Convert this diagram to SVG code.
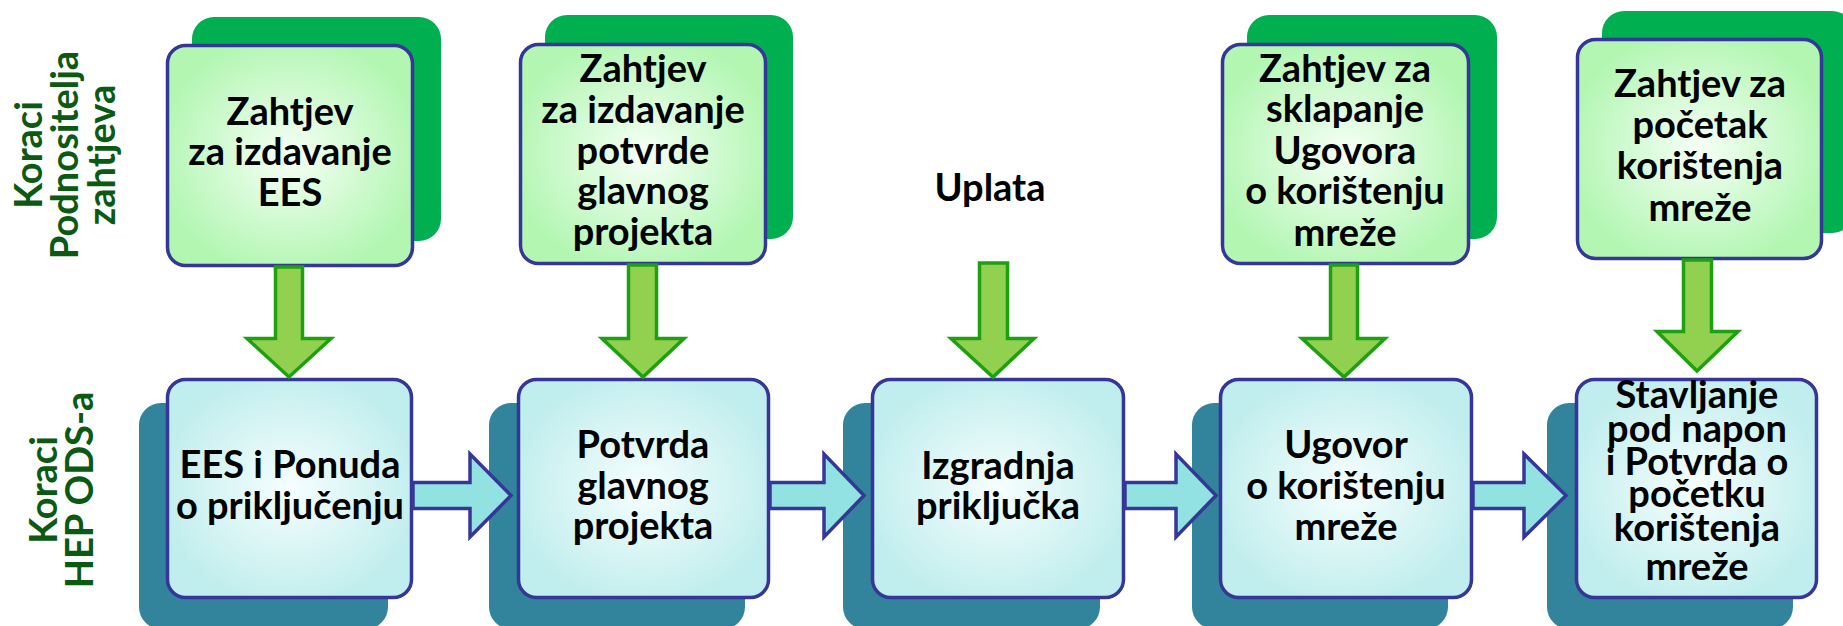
<svg xmlns="http://www.w3.org/2000/svg" width="1843" height="626" viewBox="0 0 1843 626">
<style>
  text { font-family: Lato, "Liberation Sans", sans-serif; font-weight: bold; font-size: 38px; fill: #000; text-anchor: middle; }
  .lbl { fill: #0b5a12; }
  .backG { fill: #00b050; }
  .backT { fill: #31849b; }
  .frontG { fill: url(#gTop); stroke: #363699; stroke-width: 3.5; }
  .frontT { fill: url(#gBot); stroke: #363699; stroke-width: 3.5; }
  .ga { fill: #92d050; stroke: #1fa010; stroke-width: 3.5; stroke-linejoin: miter; }
  .ba { fill: #92e2e2; stroke: #363699; stroke-width: 3.5; stroke-linejoin: miter; }
</style>
<defs>
  <radialGradient id="gTop" cx="50%" cy="50%" r="55%">
    <stop offset="0" stop-color="#f6fff6"/>
    <stop offset="1" stop-color="#b2f6b2"/>
  </radialGradient>
  <radialGradient id="gBot" cx="50%" cy="50%" r="55%">
    <stop offset="0" stop-color="#f6fefe"/>
    <stop offset="1" stop-color="#c0eded"/>
  </radialGradient>
</defs>
<rect width="1843" height="626" fill="#fff"/>

<g id="label-top">
  <text class="lbl" transform="translate(42,155) rotate(-90)">Koraci</text>
  <text class="lbl" transform="translate(78,155) rotate(-90)">Podnositelja</text>
  <text class="lbl" transform="translate(115,155) rotate(-90)">zahtjeva</text>
</g>
<g id="label-bottom">
  <text class="lbl" transform="translate(57,490) rotate(-90)">Koraci</text>
  <text class="lbl" transform="translate(93,490) rotate(-90)">HEP ODS-a</text>
</g>

<g id="req1">
  <rect class="backG" x="192" y="17" width="249" height="224" rx="22"/>
  <rect class="frontG" x="167.5" y="45.5" width="245" height="220" rx="18"/>
  <text x="290" y="125">Zahtjev</text>
  <text x="290" y="165">za izdavanje</text>
  <text x="290" y="206">EES</text>
</g>
<g id="req2">
  <rect class="backG" x="545" y="15" width="248" height="224" rx="22"/>
  <rect class="frontG" x="520.5" y="44.5" width="245" height="219" rx="18"/>
  <text x="643" y="82">Zahtjev</text>
  <text x="643" y="123">za izdavanje</text>
  <text x="643" y="164">potvrde</text>
  <text x="643" y="204">glavnog</text>
  <text x="643" y="245">projekta</text>
</g>
<g id="req3">
  <text x="990" y="201">Uplata</text>
</g>
<g id="req4">
  <rect class="backG" x="1247" y="15" width="250" height="224" rx="22"/>
  <rect class="frontG" x="1222.5" y="44.5" width="246" height="219" rx="18"/>
  <text x="1345" y="82">Zahtjev za</text>
  <text x="1345" y="122">sklapanje</text>
  <text x="1345" y="164">Ugovora</text>
  <text x="1345" y="204">o korištenju</text>
  <text x="1345" y="246">mreže</text>
</g>
<g id="req5">
  <rect class="backG" x="1602" y="11" width="252" height="222" rx="22"/>
  <rect class="frontG" x="1577.5" y="39.5" width="244" height="219" rx="18"/>
  <text x="1700" y="97">Zahtjev za</text>
  <text x="1700" y="138">početak</text>
  <text x="1700" y="179">korištenja</text>
  <text x="1700" y="221">mreže</text>
</g>

<g id="step1">
  <rect class="backT" x="139" y="403" width="249" height="226" rx="22"/>
  <rect class="frontT" x="167.5" y="379.5" width="244" height="218" rx="18"/>
  <text x="290" y="478">EES i Ponuda</text>
  <text x="290" y="519">o priključenju</text>
</g>
<g id="step2">
  <rect class="backT" x="489" y="403" width="256" height="226" rx="22"/>
  <rect class="frontT" x="518.5" y="379.5" width="250" height="218" rx="18"/>
  <text x="643" y="458">Potvrda</text>
  <text x="643" y="499">glavnog</text>
  <text x="643" y="539">projekta</text>
</g>
<g id="step3">
  <rect class="backT" x="843" y="403" width="257" height="226" rx="22"/>
  <rect class="frontT" x="872.5" y="379.5" width="251" height="218" rx="18"/>
  <text x="998" y="479">Izgradnja</text>
  <text x="998" y="519">priključka</text>
</g>
<g id="step4">
  <rect class="backT" x="1192" y="403" width="256" height="226" rx="22"/>
  <rect class="frontT" x="1220.5" y="379.5" width="251" height="218" rx="18"/>
  <text x="1346" y="458">Ugovor</text>
  <text x="1346" y="499">o korištenju</text>
  <text x="1346" y="540">mreže</text>
</g>
<g id="step5">
  <rect class="backT" x="1547" y="403" width="246" height="226" rx="22"/>
  <rect class="frontT" x="1576.5" y="379.5" width="240" height="218" rx="18"/>
  <text x="1697" y="408">Stavljanje</text>
  <text x="1697" y="442">pod napon</text>
  <text x="1697" y="475">i Potvrda o</text>
  <text x="1697" y="507">početku</text>
  <text x="1697" y="541">korištenja</text>
  <text x="1697" y="580">mreže</text>
</g>

<g id="connectors">
  <polygon class="ga" points="275.5,267 302.5,267 302.5,338.5 331,338.5 289,377 247,338.5 275.5,338.5"/>
  <polygon class="ga" points="628.5,265 656.5,265 656.5,338.5 684,338.5 643,377 602,338.5 628.5,338.5"/>
  <polygon class="ga" points="979.5,263 1007.5,263 1007.5,338.5 1034,338.5 993,377 951,338.5 979.5,338.5"/>
  <polygon class="ga" points="1330.5,265 1357.5,265 1357.5,338.5 1385,338.5 1344,377 1302,338.5 1330.5,338.5"/>
  <polygon class="ga" points="1683.5,260 1711.5,260 1711.5,331.5 1738,331.5 1697,371 1657,331.5 1683.5,331.5"/>

  <polygon class="ba" points="413,482.5 470,482.5 470,454 511,495.5 470,537 470,508.5 413,508.5"/>
  <polygon class="ba" points="770,482.5 824,482.5 824,454 864,495.5 824,537 824,508.5 770,508.5"/>
  <polygon class="ba" points="1125,482.5 1176,482.5 1176,454 1216,495.5 1176,537 1176,508.5 1125,508.5"/>
  <polygon class="ba" points="1473,482.5 1524,482.5 1524,454 1566,495.5 1524,537 1524,508.5 1473,508.5"/>
</g>
</svg>
